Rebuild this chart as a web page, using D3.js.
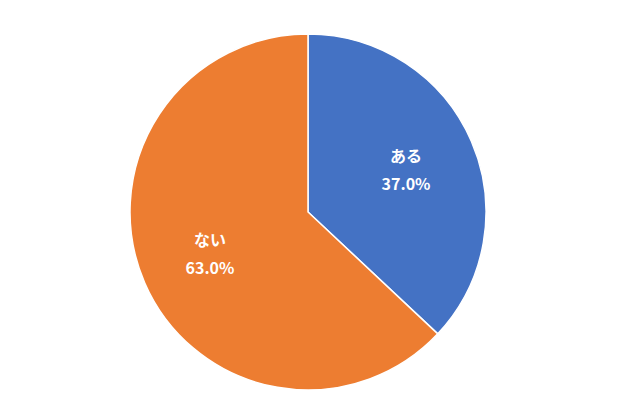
<!DOCTYPE html>
<html><head><meta charset="utf-8">
<script src="https://cdn.jsdelivr.net/npm/d3@7"></script>
<style>body{margin:0;background:#fff}</style></head>
<body><svg id="c" width="640" height="417"></svg>
<script>
const categories = ["ある","ない"];
const values = [37.0, 63.0];
const colors = ["#4472C4","#ED7D31"];
const svg = d3.select("#c");
const cx = 308, cy = 212, r = 178;
const g = svg.append("g").attr("transform",`translate(${cx},${cy})`);
const pie = d3.pie().sort(null).value(d=>d)(values);
const arc = d3.arc().innerRadius(0).outerRadius(r);
g.selectAll("path").data(pie).enter().append("path")
  .attr("d",arc).attr("fill",(d,i)=>colors[i]).attr("stroke","#fff").attr("stroke-width",1.5);
const la = d3.arc().innerRadius(r*0.6).outerRadius(r*0.6);
pie.forEach((d,i)=>{
  const [x,y] = la.centroid(d);
  const t = g.append("text").attr("text-anchor","middle").attr("fill","#fff")
    .attr("font-family","'Noto Sans CJK JP','Noto Sans',sans-serif").attr("font-weight","bold").attr("font-size",16);
  t.append("tspan").attr("x",x).attr("y",y-8).text(categories[i]);
  t.append("tspan").attr("x",x).attr("y",y+20).text(values[i].toFixed(1)+"%");
});
</script></body></html>
